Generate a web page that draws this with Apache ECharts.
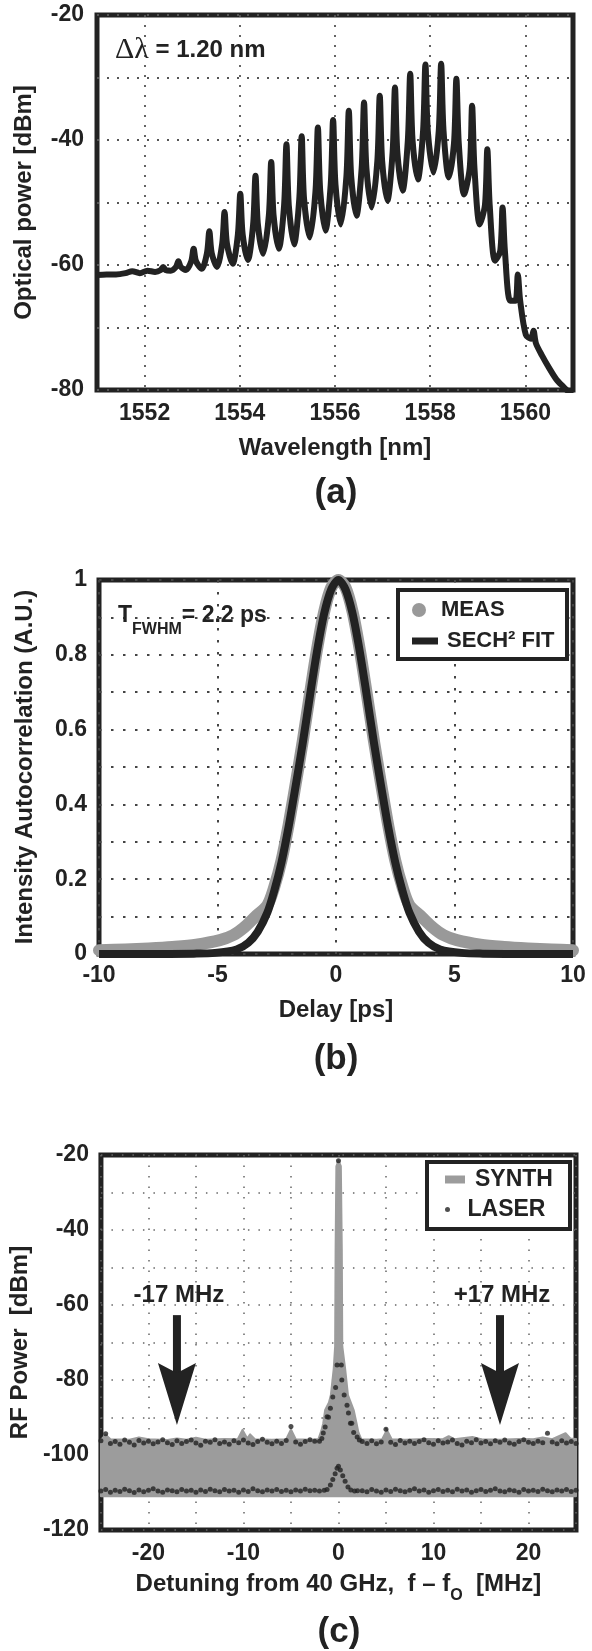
<!DOCTYPE html>
<html><head><meta charset="utf-8">
<script src="https://cdn.jsdelivr.net/npm/echarts@6/dist/echarts.min.js"></script>
<style>html,body{margin:0;padding:0;background:#fff}#c{width:592px;height:1651px}</style>
</head><body><div id="c"></div>
<script>
// ---------- (a) optical spectrum [wavelength nm, dBm] ----------
const opticalSpectrum = [
 [1551.00,-61.6],[1551.20,-61.5],[1551.40,-61.5],[1551.60,-61.3],[1551.74,-61.0],[1551.90,-61.3],[1552.06,-60.9],[1552.22,-61.1],
 [1552.34,-60.8],[1552.39,-60.3],[1552.44,-60.8],[1552.55,-60.9],
 [1552.66,-60.3],[1552.71,-59.4],[1552.76,-60.3],[1552.87,-60.8],
 [1552.98,-59.4],[1553.03,-57.4],[1553.08,-59.4],[1553.20,-60.6],
 [1553.31,-58.1],[1553.36,-54.6],[1553.41,-58.1],[1553.52,-60.3],
 [1553.63,-56.6],[1553.68,-51.5],[1553.73,-56.6],[1553.85,-59.8],
 [1553.96,-55.1],[1554.01,-48.6],[1554.06,-55.1],[1554.17,-59.2],
 [1554.28,-53.5],[1554.33,-45.7],[1554.38,-53.5],[1554.49,-58.2],
 [1554.61,-52.1],[1554.66,-43.5],[1554.71,-52.1],[1554.82,-57.4],
 [1554.93,-50.5],[1554.98,-40.7],[1555.03,-50.5],[1555.14,-56.7],
 [1555.25,-49.4],[1555.30,-39.4],[1555.35,-49.4],[1555.47,-55.6],
 [1555.59,-48.2],[1555.64,-38.0],[1555.69,-48.2],[1555.80,-54.5],
 [1555.91,-47.1],[1555.96,-36.8],[1556.01,-47.1],[1556.12,-53.5],
 [1556.24,-45.8],[1556.29,-35.3],[1556.34,-45.8],[1556.45,-52.1],
 [1556.56,-44.5],[1556.61,-34.0],[1556.66,-44.5],[1556.77,-50.8],
 [1556.89,-43.3],[1556.94,-32.9],[1556.99,-43.3],[1557.10,-49.7],
 [1557.21,-42.0],[1557.26,-31.6],[1557.31,-42.0],[1557.42,-48.1],
 [1557.53,-40.1],[1557.58,-29.4],[1557.63,-40.1],[1557.74,-46.3],
 [1557.85,-38.6],[1557.90,-27.9],[1557.95,-38.6],[1558.07,-45.2],
 [1558.18,-38.5],[1558.23,-27.8],[1558.28,-38.5],[1558.39,-46.0],
 [1558.50,-40.5],[1558.55,-30.2],[1558.60,-40.5],[1558.71,-48.7],
 [1558.83,-44.5],[1558.88,-34.5],[1558.93,-44.5],[1559.04,-53.5],
 [1559.15,-50.4],[1559.20,-41.5],[1559.25,-50.4],[1559.36,-59.3],
 [1559.47,-57.8],[1559.52,-50.8],[1559.57,-57.8],[1559.68,-65.7],
 [1559.79,-65.7],[1559.84,-61.5],[1559.89,-65.7],[1560.01,-71.2],
 [1560.12,-71.8],[1560.17,-70.5],[1560.22,-72.5],[1560.35,-74.5],[1560.50,-76.5],[1560.65,-78.3],[1560.80,-79.5],[1560.90,-80.2],[1561.00,-80.6]
];

// ---------- (b) autocorrelation ----------
const measDelay = [-10,-8.9,-7.9,-6.9,-5.9,-4.9,-4.35,-3.9,-3.4,-2.9,-2.6,-2.3,-2.0,-1.7,-1.4,-1.1,-0.8,-0.5,-0.2,0.1,
  0.4,0.7,1.0,1.3,1.6,1.9,2.2,2.5,2.8,3.1,3.6,4.1,4.55,5.1,6.1,7.1,8.1,9.1,10];
const measValue = [0.01,0.012,0.015,0.019,0.025,0.037,0.05,0.07,0.1,0.13,0.18,0.25,0.345,0.455,0.57,0.695,0.815,0.915,0.98,1,
  0.98,0.915,0.815,0.695,0.57,0.455,0.345,0.25,0.18,0.13,0.1,0.07,0.05,0.037,0.025,0.019,0.015,0.012,0.01];
const fitDelay = [-10,-8,-6,-5.1,-4.2,-3.7,-3.3,-2.9,-2.6,-2.3,-2.0,-1.7,-1.4,-1.1,-0.8,-0.5,-0.2,0.1,
  0.4,0.7,1.0,1.3,1.6,1.9,2.2,2.5,2.8,3.1,3.5,3.9,4.4,5.3,6.2,8.1,10];
const fitValue = [0,0,0.001,0.003,0.012,0.03,0.06,0.11,0.17,0.245,0.34,0.45,0.565,0.69,0.81,0.91,0.975,1,
  0.975,0.91,0.81,0.69,0.565,0.45,0.34,0.245,0.17,0.11,0.06,0.03,0.012,0.003,0.001,0,0];

// ---------- (c) RF spectrum ----------
const synthFloor = -111;
const synthTop = [
 [-25,-96.0],[-24.5,-94.6],[-24,-95.8],[-22,-95.9],[-21,-95.3],[-20,-95.8],[-18,-96.0],[-17,-95.6],[-16,-95.9],[-15,-95.4],
 [-14,-95.9],[-12,-95.7],[-10.6,-95.8],[-10.1,-93.3],[-9.6,-95.6],[-9.3,-94.5],[-8.8,-95.8],[-7,-95.9],[-5.5,-95.8],[-5.0,-93.2],
 [-4.5,-95.8],[-3,-95.9],[-2.1,-95.7],[-1.8,-93.5],[-1.6,-91.5],[-1.4,-88],[-1.0,-86],[-0.8,-84],[-0.5,-77],[-0.35,-71],
 [-0.3,-45],[-0.22,-23],[0,-21.5],[0.25,-23],[0.35,-45],[0.4,-71],[0.7,-77],[1.0,-84],[1.3,-86],[1.6,-88],
 [1.9,-91.5],[2.1,-94],[2.4,-95.8],[4,-95.9],[4.6,-95.8],[5.1,-93.3],[5.6,-95.8],[7,-95.9],[9,-95.7],[11,-95.8],
 [11.6,-95.0],[12.2,-95.8],[14.1,-95.2],[15,-95.8],[17,-95.9],[19,-95.7],[20.5,-95.8],[21.5,-95.3],[22.5,-95.8],[23.9,-94.2],
 [24.4,-95.6],[25,-95.7]
];
// laser traces sampled every 0.5 MHz on the flat parts (-25..-2.5 and 2.5..25)
const laserUpperLeft = [-96.2,-94.3,-96.9,-96.4,-97.1,-96.0,-96.6,-97.3,-96.1,-96.8,
 -96.3,-97.0,-96.5,-95.9,-96.7,-97.2,-96.2,-96.9,-96.4,-96.0,
 -96.8,-97.4,-96.3,-96.6,-95.9,-96.9,-96.5,-97.1,-96.2,-96.7,
 -96.0,-96.8,-97.2,-96.4,-95.8,-96.6,-97.0,-96.3,-96.9,-96.1,
 -92.4,-96.5,-97.1,-96.4,-95.9,-96.3];
const laserUpperRight = [-96.4,-96.9,-96.2,-97.0,-96.5,-93.1,-96.6,-97.2,-96.1,-96.8,
 -96.3,-96.9,-96.4,-95.9,-96.7,-97.1,-96.2,-96.8,-96.5,-96.0,
 -96.9,-97.3,-96.3,-96.7,-95.9,-96.8,-96.4,-97.0,-96.2,-96.6,
 -96.0,-96.8,-97.1,-96.4,-95.9,-96.6,-96.9,-96.3,-96.7,-94.2,
 -96.5,-97.0,-96.2,-96.8,-96.4,-96.9];
const laserLowerLeft = [-109.6,-109.2,-109.9,-109.4,-109.7,-109.1,-109.5,-110.0,-109.3,-109.8,
 -109.4,-109.0,-109.6,-109.9,-109.3,-109.5,-109.8,-109.2,-109.6,-109.4,
 -109.9,-109.3,-109.7,-109.1,-109.5,-109.8,-109.2,-109.6,-109.4,-109.9,
 -109.3,-109.7,-109.0,-109.5,-109.8,-109.3,-109.6,-109.2,-109.7,-109.4,
 -109.8,-109.3,-109.6,-109.1,-109.5,-109.4];
const laserLowerRight = [-109.5,-109.8,-109.2,-109.6,-109.9,-109.3,-109.7,-109.1,-109.5,-109.8,
 -109.4,-109.0,-109.6,-109.3,-109.9,-109.5,-109.2,-109.7,-109.4,-109.8,
 -109.1,-109.6,-109.3,-109.9,-109.5,-109.2,-109.7,-109.4,-109.0,-109.6,
 -109.8,-109.3,-109.5,-109.9,-109.2,-109.6,-109.4,-109.7,-109.1,-109.5,
 -109.8,-109.3,-109.6,-109.2,-109.7,-109.4];
const laserCenter = [
 [-2.0,-96.3],[-1.75,-95.6],[-1.6,-94.1],[-1.4,-92.5],[-1.2,-89.8],[-1.05,-89.9],[-0.85,-87.5],[-0.6,-84.5],[-0.3,-82],[-0.15,-76],
 [0,-21.5],[0.3,-76],[0.35,-80],[0.6,-84],[0.9,-86.7],[1.05,-88.8],[1.26,-91.5],[1.4,-91.5],[1.6,-94],[1.97,-95.2],[2.2,-96.0],
 [-2.0,-109.6],[-1.5,-109.4],[-1.2,-109.2],[-0.85,-108],[-0.6,-106.5],[-0.35,-105],[-0.15,-103.5],[0,-103],[0.2,-104],
 [0.45,-105.5],[0.7,-107],[1.0,-108.5],[1.3,-109.3],[1.7,-109.6],[2.0,-109.5]
];
const arrowFreq = [-17, 17];
const arrowLabels = ['-17 MHz', '+17 MHz'];
const arrowTailDb = -62.7;
const arrowTipDb = -92;

// ---------- build ----------
const FONT = '"Liberation Sans", Arial, Helvetica, sans-serif';
const INK = '#222';
const GREY = '#999';
const BAND = '#9c9c9c';
const lbl = {fontFamily: FONT, fontWeight: 'bold', fontSize: 23, color: INK};
const nameStyle = {fontFamily: FONT, fontWeight: 'bold', fontSize: 24, color: INK};

const laserPoints = [];
laserUpperLeft.forEach((v, i) => laserPoints.push([-25 + 0.5 * i, v]));
laserLowerLeft.forEach((v, i) => laserPoints.push([-25 + 0.5 * i, v]));
laserUpperRight.forEach((v, i) => laserPoints.push([2.5 + 0.5 * i, v]));
laserLowerRight.forEach((v, i) => laserPoints.push([2.5 + 0.5 * i, v]));
laserCenter.forEach(p => laserPoints.push(p));

const gridBase = {show: true, borderColor: INK, borderWidth: 5, backgroundColor: 'rgba(0,0,0,0)'};
const centerText = {align: 'center', verticalAlign: 'middle', textAlign: 'center', textVerticalAlign: 'middle'};

const option = {
  animation: false,
  backgroundColor: '#fff',
  grid: [
    Object.assign({left: 97, top: 15, width: 476, height: 375}, gridBase),
    Object.assign({left: 99, top: 580, width: 474, height: 374}, gridBase),
    Object.assign({left: 100, top: 1155, width: 476, height: 375}, gridBase)
  ],
  xAxis: [
    {gridIndex: 0, type: 'value', min: 1551, max: 1561, interval: 1,
     axisLine: {show: false}, axisTick: {show: false},
     axisLabel: Object.assign({margin: 12, formatter: v => (v % 2 === 0 ? String(v) : '')}, lbl),
     splitLine: {show: true, lineStyle: {color: ['rgba(0,0,0,0)', '#555'], type: [2, 8], width: 1.8}},
     name: 'Wavelength [nm]', nameLocation: 'middle', nameGap: 46, nameTextStyle: nameStyle},
    {gridIndex: 1, type: 'value', min: -10, max: 10, interval: 5,
     axisLine: {show: false}, axisTick: {show: false},
     axisLabel: Object.assign({margin: 10}, lbl),
     splitLine: {show: true, lineStyle: {color: '#444', type: [2.5, 9.5], width: 2}},
     name: 'Delay [ps]', nameLocation: 'middle', nameGap: 44, nameTextStyle: nameStyle},
    {gridIndex: 2, type: 'value', min: -25, max: 25, interval: 5,
     axisLine: {show: false}, axisTick: {show: false},
     axisLabel: Object.assign({margin: 12, formatter: v => (v % 10 === 0 ? String(v) : '')}, lbl),
     splitLine: {show: true, lineStyle: {color: '#666', type: [1.5, 9], width: 1.5}},
     name: '{t|Detuning from 40 GHz,  f – f}{s|O}{t|  [MHz]}', nameLocation: 'middle', nameGap: 42,
     nameTextStyle: {rich: {
       t: {fontFamily: FONT, fontWeight: 'bold', fontSize: 24, color: INK, lineHeight: 32, verticalAlign: 'top'},
       s: {fontFamily: FONT, fontWeight: 'bold', fontSize: 16, color: INK, lineHeight: 16, verticalAlign: 'bottom'}
     }}}
  ],
  yAxis: [
    {gridIndex: 0, type: 'value', min: -80, max: -20, interval: 10,
     axisLine: {show: false}, axisTick: {show: false},
     axisLabel: Object.assign({margin: 13, formatter: v => (v % 20 === 0 ? String(v) : '')}, lbl),
     splitLine: {show: true, lineStyle: {color: '#555', type: [2, 8], width: 1.8}},
     name: 'Optical power [dBm]', nameLocation: 'middle', nameGap: 61, nameTextStyle: nameStyle},
    {gridIndex: 1, type: 'value', min: 0, max: 1, interval: 0.1,
     axisLine: {show: false}, axisTick: {show: false},
     axisLabel: Object.assign({margin: 12, formatter: v => {
       const k = Math.round(v * 10);
       if (k % 2 !== 0) return '';
       return k === 0 ? '0' : (k === 10 ? '1' : (k / 10).toFixed(1));
     }}, lbl),
     splitLine: {show: true, lineStyle: {color: '#444', type: [2.5, 9.5], width: 2}},
     name: 'Intensity Autocorrelation (A.U.)', nameLocation: 'middle', nameGap: 62, nameTextStyle: nameStyle},
    {gridIndex: 2, type: 'value', min: -120, max: -20, interval: 10,
     axisLine: {show: false}, axisTick: {show: false},
     axisLabel: Object.assign({margin: 12, formatter: v => (v % 20 === 0 ? String(v) : '')}, lbl),
     splitLine: {show: true, lineStyle: {color: '#666', type: [1.5, 9], width: 1.5}},
     name: 'RF Power  [dBm]', nameLocation: 'middle', nameGap: 62, nameTextStyle: nameStyle}
  ],
  legend: [
    {data: [{name: 'MEAS', icon: 'circle'}], left: 412, top: 599, padding: 0, itemWidth: 26, itemHeight: 14,
     selectedMode: false, textStyle: {fontFamily: FONT, fontWeight: 'bold', fontSize: 22, color: INK, padding: [0, 0, 0, 4]}},
    {data: [{name: 'SECH² FIT', icon: 'rect'}], left: 412, top: 630, padding: 0, itemWidth: 26, itemHeight: 7,
     selectedMode: false, textStyle: {fontFamily: FONT, fontWeight: 'bold', fontSize: 22, color: INK, padding: [0, 0, 0, 4]}},
    {data: [{name: 'SYNTH', icon: 'rect'}], left: 445, top: 1168, padding: 0, itemWidth: 20, itemHeight: 8,
     selectedMode: false, textStyle: {fontFamily: FONT, fontWeight: 'bold', fontSize: 23, color: INK, padding: [0, 0, 0, 5]}},
    {data: [{name: 'LASER', icon: 'circle'}], left: 445, top: 1198, padding: 0, itemWidth: 20, itemHeight: 5,
     selectedMode: false, textStyle: {fontFamily: FONT, fontWeight: 'bold', fontSize: 23, color: INK, padding: [0, 0, 0, 5]}}
  ],
  series: [
    {name: 'Spectrum', type: 'line', xAxisIndex: 0, yAxisIndex: 0, data: opticalSpectrum,
     symbol: 'none', smooth: 0.3, lineStyle: {color: INK, width: 6, join: 'round'}, z: 3},
    {name: 'MEAS', type: 'line', xAxisIndex: 1, yAxisIndex: 1,
     data: measDelay.map((d, i) => [d, measValue[i]]),
     symbol: 'none', smooth: 0.3, lineStyle: {color: GREY, width: 12, cap: 'round', join: 'round'}, itemStyle: {color: GREY}, z: 2},
    {name: 'SECH² FIT', type: 'line', xAxisIndex: 1, yAxisIndex: 1,
     data: fitDelay.map((d, i) => [d, fitValue[i]]),
     symbol: 'none', smooth: 0.3, lineStyle: {color: INK, width: 8, join: 'round'}, itemStyle: {color: INK}, z: 3},
    {name: 'SYNTH', type: 'custom', xAxisIndex: 2, yAxisIndex: 2, z: 2,
     data: [[0, synthFloor]], itemStyle: {color: BAND},
     renderItem: (params, api) => {
       const pts = synthTop.map(p => api.coord(p));
       for (let i = synthTop.length - 1; i >= 0; i--) pts.push(api.coord([synthTop[i][0], synthFloor]));
       return {type: 'polygon', shape: {points: pts}, style: {fill: BAND, stroke: BAND, lineWidth: 2, lineJoin: 'round'}};
     }},
    {name: 'LASER', type: 'scatter', xAxisIndex: 2, yAxisIndex: 2, data: laserPoints,
     symbol: 'circle', symbolSize: 5, itemStyle: {color: INK}, z: 4},
    {name: 'arrows', type: 'custom', xAxisIndex: 2, yAxisIndex: 2, z: 5,
     data: arrowFreq.map(f => [f, arrowTipDb]),
     renderItem: (params, api) => {
       const f = api.value(0);
       const tip = api.coord([f, api.value(1)]);
       const tail = api.coord([f, arrowTailDb]);
       const headLen = 62, headHalf = 19, notch = 10, shaftHalf = 4;
       const neck = tip[1] - headLen + notch;
       return {type: 'group', children: [
         {type: 'rect', shape: {x: tip[0] - shaftHalf, y: tail[1], width: 2 * shaftHalf, height: neck - tail[1] + 2},
          style: {fill: INK}},
         {type: 'polygon', shape: {points: [[tip[0], tip[1]], [tip[0] + headHalf, tip[1] - headLen], [tip[0], neck], [tip[0] - headHalf, tip[1] - headLen]]},
          style: {fill: INK}},
         {type: 'text', x: tip[0] + 2, y: tail[1] - 20,
          style: Object.assign({text: arrowLabels[params.dataIndex], fill: INK, font: 'bold 24px ' + FONT}, centerText)}
       ]};
     }}
  ],
  graphic: [
    {type: 'rect', z: 3, shape: {x: 398, y: 590, width: 169, height: 69}, style: {fill: '#fff', stroke: INK, lineWidth: 4}},
    {type: 'rect', z: 3, shape: {x: 427, y: 1162, width: 143, height: 67}, style: {fill: '#fff', stroke: INK, lineWidth: 4}},
    {type: 'text', z: 5, x: 115, y: 50, style: {
      text: '{g|Δλ}{t| = 1.20 nm}', verticalAlign: 'middle', textVerticalAlign: 'middle',
      rich: {g: {fontFamily: '"Liberation Serif", "DejaVu Serif", serif', fontSize: 30, fill: INK, color: INK},
             t: {fontFamily: FONT, fontWeight: 'bold', fontSize: 24, fill: INK, color: INK}}}},
    {type: 'text', z: 5, x: 118, y: 604, style: {
      text: '{t|T}{s|FWHM}{t|= 2.2 ps}',
      rich: {t: {fontFamily: FONT, fontWeight: 'bold', fontSize: 23, lineHeight: 34, verticalAlign: 'top', fill: INK, color: INK},
             s: {fontFamily: FONT, fontWeight: 'bold', fontSize: 16, lineHeight: 16, verticalAlign: 'bottom', fill: INK, color: INK}}}},
    {type: 'text', x: 336, y: 493, style: Object.assign({text: '(a)', font: 'bold 35px ' + FONT, fill: INK}, centerText)},
    {type: 'text', x: 336, y: 1059, style: Object.assign({text: '(b)', font: 'bold 35px ' + FONT, fill: INK}, centerText)},
    {type: 'text', x: 339, y: 1632, style: Object.assign({text: '(c)', font: 'bold 35px ' + FONT, fill: INK}, centerText)}
  ]
};

const chart = echarts.init(document.getElementById('c'), null, {renderer: 'canvas', width: 592, height: 1651});
chart.setOption(option);
</script></body></html>
